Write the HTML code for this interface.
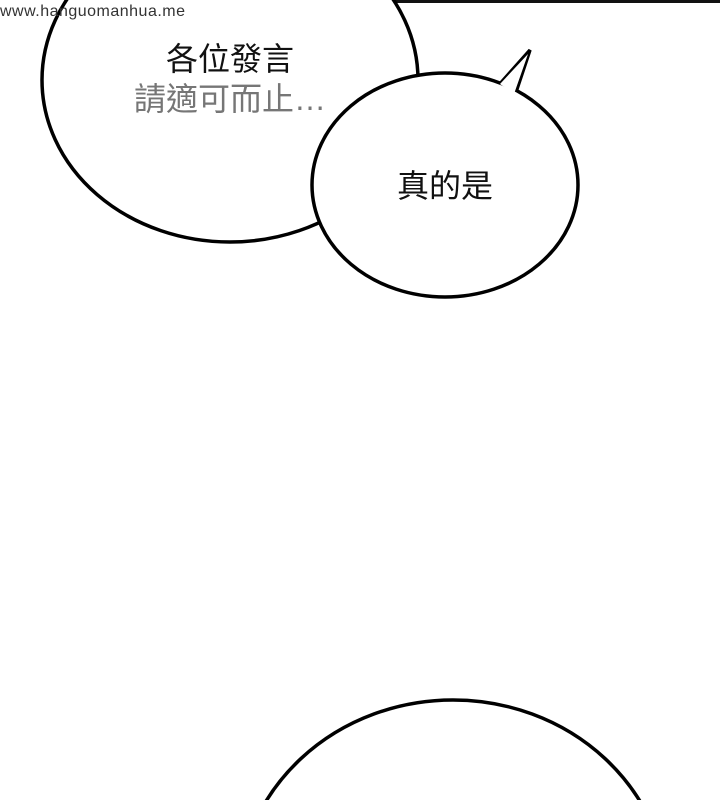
<!DOCTYPE html>
<html><head><meta charset="utf-8"><style>
html,body{margin:0;padding:0;background:#fff;width:720px;height:800px;overflow:hidden;}
body{position:relative;}
svg{position:absolute;left:0;top:0;display:block;}
</style></head><body>
<svg width="720" height="800" viewBox="0 0 720 800">
<rect x="395" y="-2" width="330" height="5" fill="#111"/>
<ellipse cx="230" cy="80" rx="188" ry="162" fill="#fff" stroke="#000" stroke-width="3.5"/>
<path d="M498,86 L530,50 L516,92 Z" fill="#fff" stroke="#000" stroke-width="3.5" stroke-linejoin="miter"/>
<ellipse cx="445" cy="185" rx="133" ry="112" fill="#fff" stroke="#000" stroke-width="3.5"/>
<path d="M500,84 L528,54 L514,94 Z" fill="#fff"/>
<ellipse cx="453" cy="900" rx="215" ry="200" fill="#fff" stroke="#000" stroke-width="3.5"/>
<g font-family="'Liberation Sans','Noto Sans CJK TC',sans-serif" fill="#111">
<text x="0" y="16" font-size="16" fill="#333" textLength="185">www.hanguomanhua.me</text>
<text x="230" y="70" font-size="32" text-anchor="middle">各位發言</text>
<text x="230" y="110" font-size="32" text-anchor="middle" fill="#555" opacity="0.8">請適可而止…</text>
<text x="445" y="197" font-size="32" text-anchor="middle">真的是</text>
</g>
</svg>
</body></html>
